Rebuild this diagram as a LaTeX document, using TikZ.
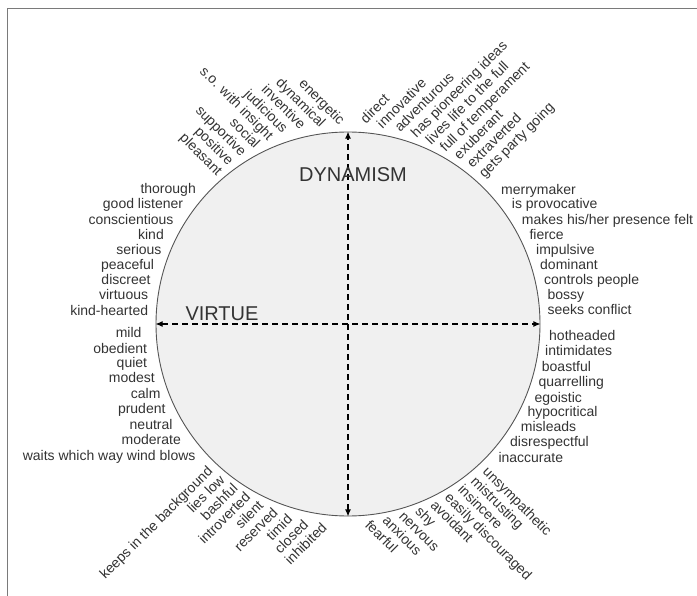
\documentclass[tikz,border=0pt]{standalone}
\usepackage{fontspec}
\setmainfont{Liberation Sans}
\usetikzlibrary{arrows.meta}
\definecolor{txt}{HTML}{333333}
\definecolor{discfill}{HTML}{F0F0F0}
\definecolor{rim}{HTML}{555555}
\definecolor{frame}{HTML}{7A7A7A}
\begin{document}
\begin{tikzpicture}[x=1pt,y=-1pt,
  trait/.style={font=\fontsize{14}{15}\selectfont, text=txt, inner sep=0pt,
                text height=10pt, text depth=3pt},
  lefttrait/.style={trait, anchor=east},
  righttrait/.style={trait, anchor=west},
  axislabel/.style={font=\fontsize{20}{22}\selectfont, text=txt, inner sep=0pt},
  disc/.style={circle, draw=rim, line width=0.9pt, fill=discfill,
               minimum size=384pt, inner sep=0pt},
  axis/.style={black, line width=1.1pt, dash pattern=on 6pt off 4pt,
               {Latex[length=7pt,width=6pt]}-{Latex[length=7pt,width=6pt]}}]

\useasboundingbox (0,0) rectangle (697,596);

% open frame along the top and left edges
\draw[frame, line width=1.4pt] (697,8.5) -- (7.5,8.5) -- (7.5,596);

% central disc and the two axes
\node[disc] (D) at (348,324) {};
\draw[axis] (D.south) -- (D.north);
\draw[axis] (D.west) -- (D.east);

\node[axislabel] (dyn) at (353,175) {DYNAMISM};
\node[axislabel] (vir) at (222,313.5) {VIRTUE};

% upper left, slanted down to the rim
\foreach \x/\y/\t [count=\i] in {
  341.7/123.3/energetic, 322.5/125.8/dynamical, 302.5/127.4/inventive,
  284.6/131.2/judicious, 270.3/138.5/{s.o. with insight}, 257/146.8/social,
  243.3/154.8/supportive, 230.4/163.5/positive, 219.2/174/pleasant}
  \node[trait, anchor=east, rotate=-45] (ul\i) at (\x,\y) {\t};

% upper right, rising away from the rim
\foreach \x/\y/\t [count=\i] in {
  363.4/121.7/direct, 380/126.7/innovative, 397.8/130.5/adventurous,
  414/136/{has pioneering ideas}, 428.7/143/{lives life to the full},
  443/150.3/{full of temperament}, 457/157.9/exuberant,
  470/166.6/extraverted, 481.9/176.4/{gets party going}}
  \node[trait, anchor=west, rotate=45] (ur\i) at (\x,\y) {\t};

% lower left, rising toward the rim
\foreach \x/\y/\t [count=\i] in {
  211/469.4/{keeps in the background}, 223.2/478.5/{lies low},
  236.3/486.7/bashful, 248.8/495.6/introverted, 261.9/503.8/silent,
  276.2/511/reserved, 290.7/517.7/timid, 306.7/523.1/closed,
  325.2/526/inhibited}
  \node[trait, anchor=east, rotate=45] (ll\i) at (\x,\y) {\t};

% lower right, falling away from the rim
\foreach \x/\y/\t [count=\i] in {
  366.8/523.4/fearful, 384.1/519.3/anxious, 400.6/514.5/nervous,
  417/509.5/shy, 432.2/503.4/avoidant, 446.5/496.3/{easily discouraged},
  459.6/488/insincere, 472.4/479.5/mistrusting, 484.5/470.2/unsympathetic}
  \node[trait, anchor=west, rotate=-45] (lr\i) at (\x,\y) {\t};

% left column
\foreach \x/\y/\t [count=\i] in {
  196/190/thorough, 183.3/205/{good listener}, 173.7/220.7/conscientious,
  164/235.7/kind, 161.7/251/serious, 154.3/266/peaceful,
  150.7/281/discreet, 148.3/296/virtuous, 148.3/311.7/kind-hearted,
  141.7/334/mild, 147.3/350/obedient, 147.3/364.3/quiet,
  155/379.3/modest, 160.7/395/calm, 165.7/410/prudent,
  172.7/425.7/neutral, 181/440.7/moderate,
  195.7/456.7/{waits which way wind blows}}
  \node[lefttrait] (lc\i) at (\x,\y) {\t};

% right column
\foreach \x/\y/\t [count=\i] in {
  501/190.7/merrymaker, 511.7/205/{is provocative},
  521.7/220.7/{makes his/her presence felt}, 529.3/235.7/fierce,
  536/251/impulsive, 540/266/dominant, 544/281/{controls people},
  547.3/296/bossy, 547.3/311/{seeks conflict},
  549/336.7/hotheaded, 545/352.3/intimidates, 541.7/368/boastful,
  538.3/383.3/quarrelling, 534.3/398.7/egoistic, 527.3/413/hypocritical,
  520.7/428.3/misleads, 510/443.3/disrespectful, 498.3/459.3/inaccurate}
  \node[righttrait] (rc\i) at (\x,\y) {\t};

\end{tikzpicture}
\end{document}
